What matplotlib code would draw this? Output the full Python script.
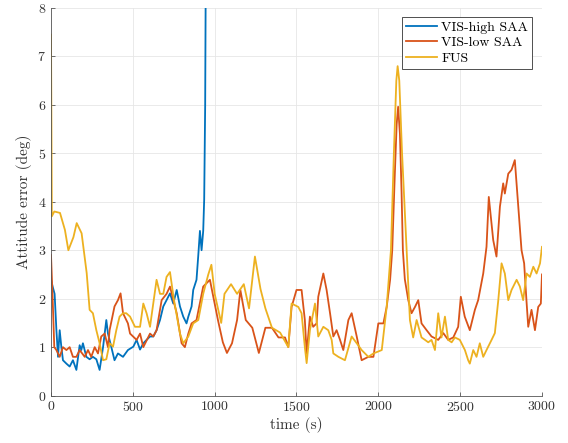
import matplotlib
matplotlib.use("Agg")
import matplotlib.pyplot as plt

# values
t_high = [0, 10, 22, 33, 43, 53, 63, 73, 94, 114, 134, 155, 175, 185, 195, 216, 236, 256,
          277, 297, 318, 338, 348, 368, 388, 409, 440, 470, 503, 523, 544, 564, 584, 605,
          625, 645, 666, 686, 706, 727, 747, 768, 788, 808, 828, 839, 859, 869, 889, 900,
          910, 920, 930, 936, 942, 946]
v_high = [2.4, 2.25, 2.1, 1.35, 0.8, 1.35, 1.01, 0.73, 0.66, 0.6, 0.73, 0.53, 1.04, 0.94, 1.08, 0.8, 0.75, 0.8,
          0.75, 0.53, 1.0, 1.56, 1.28, 1.01, 0.73, 0.87, 0.8, 0.94, 1.01, 1.15, 0.95, 1.08, 1.15, 1.22,
          1.22, 1.35, 1.56, 1.84, 1.97, 2.11, 1.9, 2.18, 1.84, 1.63, 1.49, 1.63, 1.84, 2.18, 2.39, 2.9,
          3.4, 3.0, 3.4, 4.05, 6.0, 9.0]

t_low = [0, 10, 20, 33, 53, 73, 94, 114, 134, 155, 175, 206, 226, 246, 267, 287, 307, 328,
         348, 358, 388, 409, 425, 440, 470, 483, 523, 544, 564, 605, 625, 645, 676, 706, 727,
         768, 798, 818, 839, 859, 889, 930, 971, 1000, 1020,
         1050, 1075, 1106, 1137, 1157, 1190, 1230, 1270, 1310, 1350, 1390, 1430, 1450, 1470,
         1500, 1531, 1551, 1562, 1582, 1602, 1623, 1633, 1664, 1684, 1705, 1725, 1745, 1766,
         1786, 1817, 1837, 1868, 1898, 1939, 1970, 2000, 2031, 2051, 2072, 2085, 2100, 2112,
         2121, 2132, 2142, 2150, 2162, 2183, 2203, 2224, 2244, 2264, 2295, 2325, 2366, 2397,
         2427, 2458, 2488, 2504, 2528, 2559, 2590, 2610, 2641, 2661, 2675, 2702, 2722, 2743,
         2763, 2773, 2794, 2814, 2834, 2855, 2875, 2891, 2905, 2916, 2936, 2957, 2977, 2993, 3000]
v_low = [2.9, 2.0, 1.0, 0.94, 0.8, 1.0, 0.94, 1.0, 0.8, 0.8, 0.94, 0.8, 0.94, 0.8, 1.0, 0.87, 1.22, 1.28,
         1.0, 1.35, 1.84, 1.97, 2.11, 1.7, 1.49, 1.28, 1.15, 1.28, 1.0, 1.28, 1.22, 1.35, 1.97, 2.1, 2.25,
         1.7, 1.08, 1.0, 1.28, 1.49, 1.56, 2.25, 2.39, 1.9, 1.56,
         1.1, 0.88, 1.08, 1.56, 2.18, 1.56, 1.4, 0.88, 1.4, 1.4, 1.2, 1.2, 1.0, 1.83,
         2.18, 2.18, 1.56, 0.87, 1.63, 1.42, 1.49, 2.04, 2.52, 2.18, 1.7, 1.22, 1.35, 1.15,
         0.94, 1.56, 1.7, 1.22, 0.73, 0.8, 0.8, 1.49, 1.49, 1.83, 2.39, 3.0, 4.5, 5.6,
         5.96, 5.4, 4.2, 3.0, 2.4, 1.97, 1.7, 1.83, 1.97, 1.49, 1.35, 1.22, 1.15, 1.29,
         1.15, 1.2, 1.42, 2.04, 1.63, 1.35, 1.77, 1.97, 2.52, 3.07, 4.1, 3.21, 2.87, 3.9,
         4.38, 4.17, 4.58, 4.66, 4.86, 3.9, 3.0, 2.73, 1.97, 1.42, 1.77, 1.35, 1.83, 1.9, 2.5]

t_fus = [0, 5, 20, 55, 85, 106, 137, 157, 187, 218, 236, 256, 277, 297, 318, 338, 358, 379,
         399, 419, 440, 460, 483, 513, 544, 564, 584, 605, 645, 666, 686, 706, 727, 750, 788,
         808, 839, 869, 900, 930, 961,
         980, 1000, 1040, 1060, 1100, 1137, 1178, 1210, 1246, 1280, 1310, 1350, 1400, 1450,
         1470, 1511, 1531, 1551, 1562, 1582, 1613, 1633, 1664, 1694, 1715, 1725, 1756, 1796,
         1837, 1868, 1898, 1939, 1970, 2021, 2051, 2077, 2095, 2110, 2118, 2128, 2145, 2173,
         2193, 2213, 2234, 2264, 2285, 2305, 2325, 2346, 2366, 2386, 2407, 2427, 2448, 2468,
         2498, 2529, 2549, 2559, 2580, 2600, 2620, 2641, 2661, 2692, 2712, 2733, 2753, 2773,
         2794, 2814, 2845, 2865, 2885, 2906, 2926, 2947, 2967, 2988, 3000]
v_fus = [7.45, 3.7, 3.8, 3.77, 3.42, 3.0, 3.27, 3.56, 3.35, 2.53, 1.77, 1.7, 1.35, 1.08, 0.73, 0.75, 1.08, 1.01,
         1.35, 1.63, 1.7, 1.7, 1.63, 1.42, 1.42, 1.9, 1.7, 1.42, 2.39, 2.1, 2.1, 2.45, 2.55, 2.0, 1.28,
         1.08, 1.22, 1.49, 1.56, 2.1, 2.5,
         2.7, 2.1, 1.5, 2.1, 2.3, 2.1, 2.3, 1.8, 2.87, 2.2, 1.8, 1.4, 1.3, 1.0,
         1.9, 1.83, 1.7, 1.0, 0.67, 1.35, 1.9, 1.22, 1.42, 1.35, 1.15, 0.87, 0.8, 0.73,
         1.22, 1.08, 0.94, 0.8, 0.87, 0.94, 1.83, 3.0, 5.0, 6.5, 6.8, 6.5, 5.0, 3.0,
         1.56, 1.2, 1.56, 1.2, 1.15, 1.1, 1.15, 0.94, 1.7, 1.2, 1.63, 1.15, 1.1, 1.2,
         1.15, 0.94, 0.73, 0.66, 0.94, 0.8, 1.08, 0.8, 0.94, 1.15, 1.29, 1.97, 2.73, 2.52,
         1.97, 2.18, 2.39, 2.25, 1.97, 2.52, 2.45, 2.66, 2.52, 2.73, 3.07]

plt.rcParams['font.family'] = 'serif'
plt.rcParams['font.serif'] = ['cmr10', 'DejaVu Serif']
plt.rcParams['axes.formatter.use_mathtext'] = True

fig = plt.figure(figsize=(5.68, 4.43), dpi=100)
ax = fig.add_axes([0.0898, 0.107, 0.8644, 0.875])

ax.plot(t_high, v_high, color='#0072BD', lw=1.3, label='VIS-high SAA')
ax.plot(t_low, v_low, color='#D95319', lw=1.3, label='VIS-low SAA')
ax.plot(t_fus, v_fus, color='#EDB120', lw=1.3, label='FUS')

ax.set_xlim(0, 3000)
ax.set_ylim(0, 8)
ax.set_xticks([0, 500, 1000, 1500, 2000, 2500, 3000])
ax.set_yticks(range(0, 9))
ax.grid(True, color='#e6e6e6', lw=0.6)
ax.set_axisbelow(True)
for s in ['top', 'right']:
    ax.spines[s].set_visible(False)
for s in ['left', 'bottom']:
    ax.spines[s].set_color('#555555')
    ax.spines[s].set_linewidth(0.6)
ax.tick_params(direction='in', length=3, width=0.6, colors='#555555', labelcolor='#333333',
               labelsize=10)

ax.set_xlabel('time (s)', fontsize=11, color='#333333', labelpad=2)
ax.set_ylabel('Attitude error (deg)', fontsize=11, color='#333333', labelpad=4)

leg = ax.legend(loc='upper right', bbox_to_anchor=(0.98, 0.977), borderaxespad=0,
                fancybox=False, edgecolor='#333333', framealpha=1, fontsize=10,
                handlelength=2.2, handletextpad=0.3, borderpad=0.3, labelspacing=0.2)
leg.get_frame().set_linewidth(0.6)

fig.savefig('out.png', dpi=100)
